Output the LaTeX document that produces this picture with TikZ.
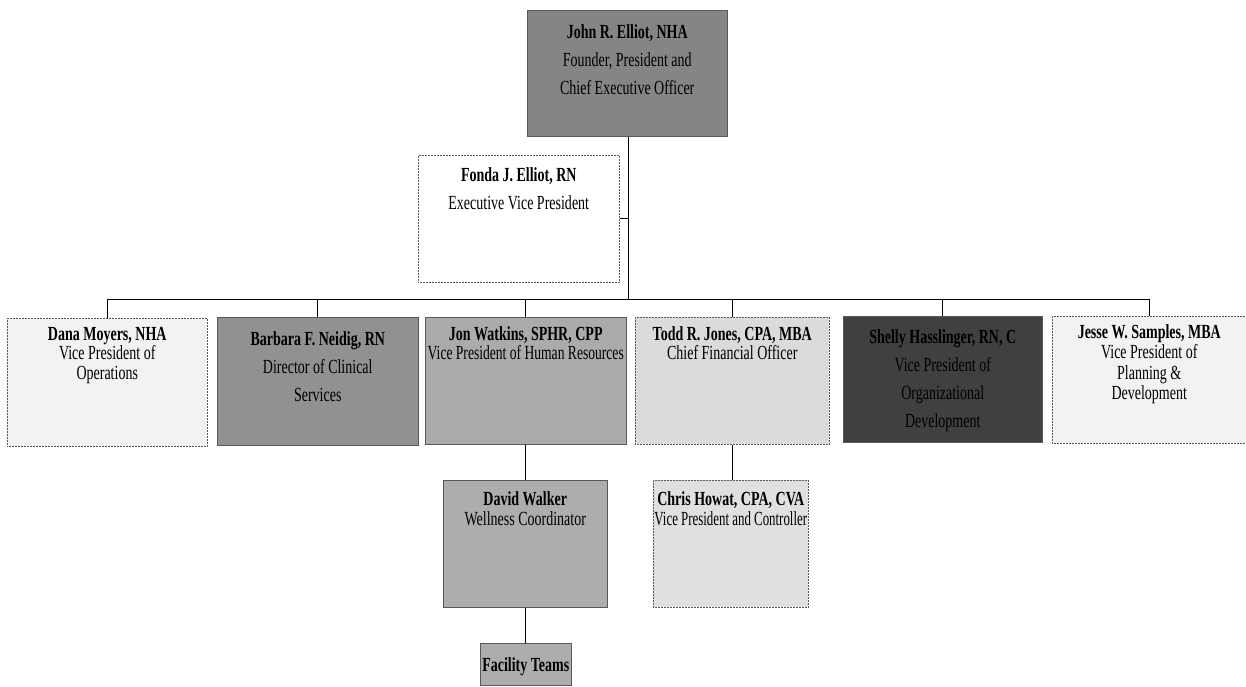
\documentclass[tikz,border=0pt]{standalone}
\usepackage{graphicx}
\usepackage{fontspec}
\setmainfont{Liberation Serif}[FakeStretch=0.7]
\newcommand{\orgtext}[5]{\parbox[t][#2pt][t]{#1pt}{\vspace*{#3pt}\centering\fontsize{20}{#4}\selectfont #5\par}}
\newcommand{\fitline}[2]{\makebox[\linewidth]{\scalebox{#1}[1]{#2}}}
\begin{document}
\begin{tikzpicture}[x=1pt,y=-1pt,
  orgbox/.style={draw=black!65, line width=0.5pt, inner sep=0pt, anchor=north west},
  lightbox/.style={orgbox, densely dotted},
  darkbox/.style={orgbox},
  link/.style={draw=black, line width=0.9pt}]
\useasboundingbox (0,0) rectangle (1246,686);
\fill[white] (0,0) rectangle (1246,686);

\node[darkbox, fill=black!48] (ceo) at (527,10)
  {\orgtext{200}{126}{14}{28}{\textbf{John R. Elliot, NHA}\\Founder, President and\\Chief Executive Officer}};
\node[lightbox, fill=white] (fonda) at (418,155)
  {\orgtext{201}{127}{12}{28}{\textbf{Fonda J. Elliot, RN}\\Executive Vice President}};

\node[lightbox, fill=black!5] (dana) at (7,318)
  {\orgtext{200}{128}{9}{19.5}{\textbf{Dana Moyers, NHA}\\Vice President of\\Operations}};
\node[darkbox, fill=black!43] (barbara) at (217,317)
  {\orgtext{201}{128}{14}{28}{\textbf{Barbara F. Neidig, RN}\\Director of Clinical\\Services}};
\node[darkbox, fill=black!33] (jon) at (425,317)
  {\orgtext{201}{127}{9}{19.5}{\textbf{Jon Watkins, SPHR, CPP}\\\fitline{0.97}{Vice President of Human Resources}}};
\node[lightbox, fill=black!14] (todd) at (635,317)
  {\orgtext{194}{127}{9}{19.5}{\textbf{Todd R. Jones, CPA, MBA}\\Chief Financial Officer}};
\node[darkbox, fill=black!75] (shelly) at (843,316)
  {\orgtext{199}{126}{13}{28}{\textbf{Shelly Hasslinger, RN, C}\\Vice President of\\Organizational\\Development}};
\node[lightbox, fill=black!5] (jesse) at (1052,316)
  {\orgtext{194}{127}{8}{20.5}{\textbf{Jesse W. Samples, MBA}\\Vice President of\\Planning \&\\Development}};

\node[darkbox, fill=black!32] (david) at (443,480)
  {\orgtext{164}{127}{11}{20}{\textbf{David Walker}\\Wellness Coordinator}};
\node[lightbox, fill=black!12] (chris) at (653,480)
  {\orgtext{155}{127}{11}{20}{\textbf{Chris Howat, CPA, CVA}\\\fitline{0.92}{Vice President and Controller}}};
\node[darkbox, fill=black!32] (facility) at (480,643)
  {\orgtext{91}{42}{14}{20}{\textbf{Facility Teams}}};

\coordinate (bus) at (628,299);
\draw[link] (ceo.south -| bus) -- (bus);
\draw[link] (fonda.east) -- (fonda.east -| bus);
\draw[link] (dana.north) -- (dana.north |- bus) -- (jesse.north |- bus) -- (jesse.north);
\foreach \n in {barbara,jon,todd,shelly} \draw[link] (\n.north) -- (\n.north |- bus);
\draw[link] (jon.south) -- (jon.south |- david.north);
\draw[link] (todd.south) -- (todd.south |- chris.north);
\draw[link] (jon.south |- david.south) -- (jon.south |- facility.north);
\end{tikzpicture}
\end{document}
